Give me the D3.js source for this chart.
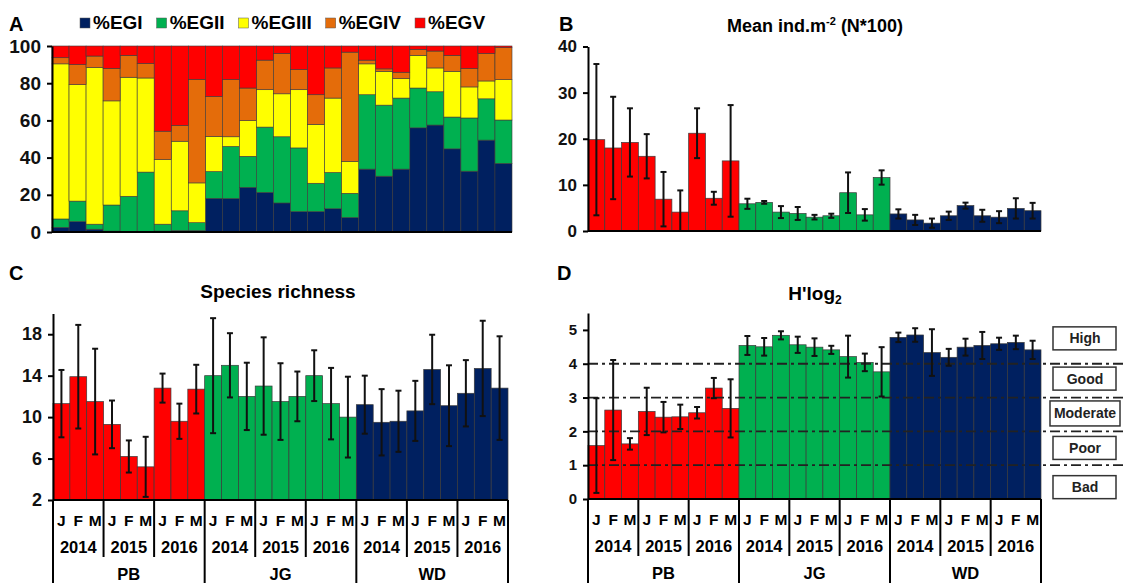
<!DOCTYPE html>
<html>
<head>
<meta charset="utf-8">
<script src="https://cdnjs.cloudflare.com/ajax/libs/d3/7.8.5/d3.min.js"></script>
<style>
  body { margin: 0; background: #fff; }
  svg { display: block; font-family: "Liberation Sans", Arial, sans-serif; font-weight: bold; }
</style>
</head>
<body>
<div id="container"></div>
<script>
// sampling design: site x year x month
var sites = ["PB", "JG", "WD"];
var years = ["2014", "2015", "2016"];
var months = ["J", "F", "M"];
var siteColors = ["#ff0000", "#00b050", "#002060"];

// panel A - ecological groups (% of individuals)
var groupNames = ["%EGI", "%EGII", "%EGIII", "%EGIV", "%EGV"];
var groupColors = ["#002060", "#00b050", "#ffff00", "#e46c0a", "#ff0000"];
var egI   = [2.5, 5.6, 1.5, 0.5, 0, 0, 0.5, 0.7, 0.7, 18.1, 18, 24, 21.3, 15.6, 11, 11, 12.5, 7.8, 33.8, 30, 33.8, 56, 57.5, 44.7, 32.7, 49.4, 36.9];
var egII  = [4.5, 11, 2.7, 14, 19.2, 32.2, 3.7, 10.7, 4.3, 14.4, 28, 16.7, 35.1, 35.6, 34.2, 15.2, 19.5, 13, 40, 38.2, 38.2, 21.4, 17.9, 17.1, 28.6, 22.2, 23.3];
var egIII = [83.4, 62.6, 84.2, 56, 64, 50.6, 34.7, 37.4, 21.4, 18.9, 5.2, 19.2, 20.1, 23.1, 31.3, 31.7, 40, 17.2, 16.6, 18.2, 10.5, 17.6, 12.8, 24.6, 16.7, 9.6, 21.7];
var egIV  = [3.3, 10.8, 6.2, 17.5, 11.8, 7.8, 15.3, 8.5, 55.7, 21.5, 30.8, 17.5, 15.9, 21.7, 10.8, 15.9, 16.2, 58.7, 2, 1.3, 3.4, 3.2, 9.1, 8.6, 9.9, 14.8, 17.2];
var egV   = [6.3, 10, 5.4, 12, 5, 9.4, 45.8, 42.7, 17.9, 27.1, 18, 22.6, 7.6, 4, 12.7, 26.2, 11.8, 3.3, 7.6, 12.3, 14.1, 1.8, 2.7, 5, 12.1, 4, 0.9];

// panel B - mean density
var densMean = [19.8, 18.0, 19.2, 16.2, 6.9, 4.1, 21.2, 7.1, 15.2, 5.9, 6.2, 4.1, 3.8, 3.0, 3.3, 8.3, 3.5, 11.6, 3.7, 2.4, 1.7, 3.3, 5.5, 3.3, 3.0, 4.9, 4.4];
var densErr  = [16.4, 11.1, 7.4, 4.8, 5.9, 4.7, 5.4, 1.4, 12.1, 1.1, 0.3, 1.3, 1.4, 0.5, 0.45, 4.4, 1.25, 1.55, 1.0, 1.1, 1.0, 0.9, 0.65, 1.3, 1.3, 2.2, 1.7];

// panel C - species richness
var richMean = [11.3, 13.9, 11.5, 9.3, 6.2, 5.2, 12.8, 9.6, 12.7, 14.0, 15.0, 12.0, 13.0, 11.5, 12.0, 14.0, 11.3, 10.0, 11.2, 9.5, 9.6, 10.6, 14.6, 11.1, 12.3, 14.7, 12.8];
var richErr  = [3.25, 5.0, 5.1, 2.3, 1.55, 2.9, 1.4, 1.7, 2.35, 5.55, 3.1, 3.25, 4.7, 3.7, 2.4, 2.45, 3.45, 3.9, 2.8, 3.2, 2.95, 2.9, 3.35, 3.9, 3.2, 4.6, 5.0];

// panel D - Shannon diversity H'log2
var divMean = [1.58, 2.63, 1.63, 2.59, 2.42, 2.43, 2.55, 3.28, 2.68, 4.54, 4.50, 4.84, 4.56, 4.49, 4.41, 4.21, 4.04, 3.76, 4.78, 4.85, 4.33, 4.19, 4.49, 4.54, 4.59, 4.63, 4.41];
var divErr  = [1.4, 1.48, 0.17, 0.7, 0.45, 0.36, 0.17, 0.3, 0.86, 0.28, 0.26, 0.12, 0.24, 0.26, 0.12, 0.62, 0.26, 0.73, 0.14, 0.2, 0.69, 0.25, 0.25, 0.4, 0.18, 0.2, 0.27];

// ecological quality classes for panel D
var qualityLimits = [1, 2, 3, 4];
var qualityNames = ["High", "Good", "Moderate", "Poor", "Bad"];
var qualityPos = [4.75, 3.56, 2.53, 1.51, 0.35];

var w = 1124, h = 583;

var svg = d3.select("div#container")
  .append("svg")
  .attr("width", w)
  .attr("height", h);

// one id per sample
var samples = [];
sites.forEach(function(s, si) {
  years.forEach(function(y) {
    months.forEach(function(m) {
      samples.push({ id: s + y + m, site: s, siteIndex: si, year: y, month: m });
    });
  });
});
var ids = samples.map(function(d) { return d.id; });

function panelLabel(txt, x, y) {
  svg.append("text").attr("x", x).attr("y", y)
    .attr("font-size", 20).text(txt);
}

function yAxis(y, x0, ticks, fontSize) {
  var g = svg.append("g").attr("transform", "translate(" + x0 + ",0)");
  g.call(d3.axisLeft(y).tickValues(ticks).tickFormat(d3.format("d"))
    .tickSize(5).tickPadding(6).tickSizeOuter(0));
  g.select(".domain").attr("stroke", "#000").attr("stroke-width", 2);
  g.selectAll(".tick line").attr("stroke", "#000").attr("stroke-width", 2);
  g.selectAll(".tick text").attr("font-size", fontSize).attr("font-family", "Liberation Sans, Arial")
    .attr("font-weight", "bold").attr("fill", "#111");
  return g;
}

// x axis with month / year / site rows
function groupAxis(x, y0) {
  var bw = x.bandwidth();
  var x0 = x.range()[0], x1 = x.range()[1];
  var g = svg.append("g");
  g.append("line").attr("x1", x0).attr("x2", x1).attr("y1", y0).attr("y2", y0)
    .attr("stroke", "#000").attr("stroke-width", 2);
  g.selectAll(".month").data(samples).enter().append("text")
    .attr("x", function(d) { return x(d.id) + bw / 2; })
    .attr("y", y0 + 26)
    .attr("text-anchor", "middle")
    .attr("font-size", 15.5)
    .text(function(d) { return d.month; });
  var yearGroups = samples.filter(function(d, i) { return i % 3 === 0; });
  g.selectAll(".year").data(yearGroups).enter().append("text")
    .attr("x", function(d) { return x(d.id) + bw * 1.5; })
    .attr("y", y0 + 53)
    .attr("text-anchor", "middle")
    .attr("font-size", 16.5)
    .text(function(d) { return d.year; });
  g.selectAll(".yearline").data(yearGroups).enter().append("line")
    .attr("x1", function(d) { return x(d.id); })
    .attr("x2", function(d) { return x(d.id); })
    .attr("y1", y0)
    .attr("y2", function(d, i) { return i % 3 === 0 ? h : y0 + 57; })
    .attr("stroke", "#000").attr("stroke-width", 2);
  g.append("line").attr("x1", x1).attr("x2", x1).attr("y1", y0).attr("y2", h)
    .attr("stroke", "#000").attr("stroke-width", 2);
  var siteGroups = samples.filter(function(d, i) { return i % 9 === 0; });
  g.selectAll(".site").data(siteGroups).enter().append("text")
    .attr("x", function(d) { return x(d.id) + bw * 4.5; })
    .attr("y", y0 + 80)
    .attr("text-anchor", "middle")
    .attr("font-size", 16.5)
    .text(function(d) { return d.site; });
}

function barPanel(opts) {
  var x = d3.scaleBand().domain(ids).range([opts.x0, opts.x1]).paddingInner(0).paddingOuter(0);
  var y = d3.scaleLinear().domain(opts.domain).range([opts.y0, opts.y1]);
  var base = opts.domain[0];
  var data = samples.map(function(d, i) {
    return { id: d.id, siteIndex: d.siteIndex, v: opts.mean[i], e: opts.err[i] };
  });

  svg.append("g").selectAll("rect").data(data).enter().append("rect")
    .attr("x", function(d) { return x(d.id); })
    .attr("y", function(d) { return y(d.v); })
    .attr("width", x.bandwidth())
    .attr("height", function(d) { return y(base) - y(d.v); })
    .attr("fill", function(d) { return siteColors[d.siteIndex]; })
    .attr("stroke", "#3a3a3a")
    .attr("stroke-width", 0.7);

  if (opts.before) opts.before(x, y);

  // error bars
  var eb = svg.append("g").selectAll("g").data(data).enter().append("g")
    .attr("transform", function(d) { return "translate(" + (x(d.id) + x.bandwidth() / 2) + ",0)"; });
  eb.append("line")
    .attr("y1", function(d) { return y(d.v + d.e); })
    .attr("y2", function(d) { return y(Math.max(base, d.v - d.e)); })
    .attr("stroke", "#111").attr("stroke-width", 2);
  eb.append("line").attr("x1", -3).attr("x2", 3)
    .attr("y1", function(d) { return y(d.v + d.e); })
    .attr("y2", function(d) { return y(d.v + d.e); })
    .attr("stroke", "#111").attr("stroke-width", 2);
  eb.append("line").attr("x1", -3).attr("x2", 3)
    .attr("y1", function(d) { return y(Math.max(base, d.v - d.e)); })
    .attr("y2", function(d) { return y(Math.max(base, d.v - d.e)); })
    .attr("stroke", "#111").attr("stroke-width", 2);

  yAxis(y, opts.x0, opts.ticks, opts.fontSize);
  if (opts.labels) groupAxis(x, opts.y0);
  else svg.append("line").attr("x1", opts.x0).attr("x2", opts.x1)
    .attr("y1", opts.y0).attr("y2", opts.y0).attr("stroke", "#000").attr("stroke-width", 2);
  return { x: x, y: y };
}

// ---------- panel A: stacked percentages ----------
var stackRows = samples.map(function(d, i) {
  return { id: d.id, "%EGI": egI[i], "%EGII": egII[i], "%EGIII": egIII[i], "%EGIV": egIV[i], "%EGV": egV[i] };
});
var series = d3.stack().keys(groupNames)(stackRows);
var xA = d3.scaleBand().domain(ids).range([52, 512]);
var yA = d3.scaleLinear().domain([0, 100]).range([232, 46]);

svg.append("g").selectAll("g").data(series).enter().append("g")
  .attr("fill", function(d, i) { return groupColors[i]; })
  .selectAll("rect").data(function(d) { return d; }).enter().append("rect")
    .attr("x", function(d) { return xA(d.data.id); })
    .attr("y", function(d) { return yA(Math.min(100, d[1])); })
    .attr("width", xA.bandwidth())
    .attr("height", function(d) { return yA(d[0]) - yA(Math.min(100, d[1])); })
    .attr("stroke", "#3a3a3a")
    .attr("stroke-width", 0.6);

yAxis(yA, 52, [0, 20, 40, 60, 80, 100], 19);
svg.append("line").attr("x1", 52).attr("x2", 512).attr("y1", 232).attr("y2", 232)
  .attr("stroke", "#000").attr("stroke-width", 2);

panelLabel("A", 9, 31);

// legend
var lx = 80;
groupNames.forEach(function(name, i) {
  svg.append("rect").attr("x", lx).attr("y", 18).attr("width", 10).attr("height", 10)
    .attr("fill", groupColors[i]).attr("stroke", "#555").attr("stroke-width", 0.5);
  var t = svg.append("text").attr("x", lx + 13).attr("y", 29)
    .attr("font-size", 19).text(name);
  lx = lx + 13 + t.node().getComputedTextLength() + 14;
});

// ---------- panel B: density ----------
barPanel({ x0: 588, x1: 1041, y0: 231, y1: 46.5, domain: [0, 40], ticks: [0, 10, 20, 30, 40],
  mean: densMean, err: densErr, fontSize: 17 });
panelLabel("B", 559, 31);
var tB = svg.append("text").attr("x", 815).attr("y", 32).attr("text-anchor", "middle").attr("font-size", 18);
tB.append("tspan").text("Mean ind.m");
tB.append("tspan").attr("font-size", 11).attr("dy", -7).text("-2");
tB.append("tspan").attr("dy", 7).text(" (N*100)");

// ---------- panel C: species richness ----------
barPanel({ x0: 53, x1: 508, y0: 500, y1: 313.5, domain: [2, 20], ticks: [2, 6, 10, 14, 18],
  mean: richMean, err: richErr, fontSize: 18, labels: true });
panelLabel("C", 9, 280);
svg.append("text").attr("x", 278).attr("y", 298).attr("text-anchor", "middle")
  .attr("font-size", 19).text("Species richness");

// ---------- panel D: diversity ----------
barPanel({ x0: 588, x1: 1041, y0: 499, y1: 313, domain: [0, 5.5], ticks: [0, 1, 2, 3, 4, 5],
  mean: divMean, err: divErr, fontSize: 15, labels: true,
  before: function(x, y) {
    // quality class limits
    svg.append("g").selectAll("line").data(qualityLimits).enter().append("line")
      .attr("x1", 588).attr("x2", w)
      .attr("y1", function(d) { return y(d); })
      .attr("y2", function(d) { return y(d); })
      .attr("stroke", "#222").attr("stroke-width", 1.8)
      .attr("stroke-dasharray", "10,4,3,4");
    var boxes = svg.append("g").selectAll("g").data(qualityNames).enter().append("g")
      .attr("transform", function(d, i) { return "translate(1085," + y(qualityPos[i]) + ")"; });
    boxes.append("rect")
      .attr("x", function(d) { return d === "Moderate" ? -35 : -32; })
      .attr("y", function(d) { return d === "Moderate" ? -12.5 : -11.5; })
      .attr("width", function(d) { return d === "Moderate" ? 70 : 63; })
      .attr("height", function(d) { return d === "Moderate" ? 25 : 23; })
      .attr("fill", "#fff").attr("stroke", "#333").attr("stroke-width", 1.5);
    boxes.append("text").attr("text-anchor", "middle").attr("y", 5)
      .attr("font-size", 14).attr("fill", "#222").text(function(d) { return d; });
  }
});
panelLabel("D", 557, 280);
var tD = svg.append("text").attr("x", 815).attr("y", 300).attr("text-anchor", "middle").attr("font-size", 19);
tD.append("tspan").text("H'log");
tD.append("tspan").attr("font-size", 12).attr("dy", 4).text("2");
</script>
</body>
</html>
